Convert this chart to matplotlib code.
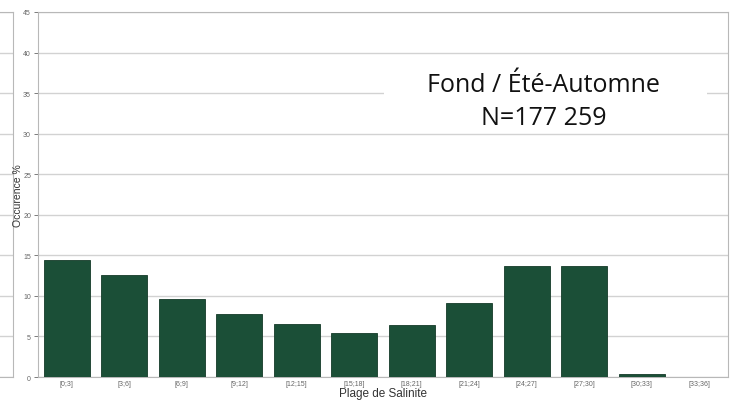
import matplotlib
matplotlib.use('Agg')
import matplotlib.pyplot as plt
from matplotlib.patches import Rectangle

# Salinity classes and share of observations (%)
ranges = ['[0;3]', '[3;6]', '[6;9]', '[9;12]', '[12;15]', '[15;18]',
          '[18;21]', '[21;24]', '[24;27]', '[27;30]', '[30;33]', '[33;36]']
occurrence = [14.4, 12.6, 9.6, 7.8, 6.5, 5.4, 6.4, 9.1, 13.7, 13.7, 0.35, 0.0]
yticks = [0, 5, 10, 15, 20, 25, 30, 35, 40, 45]

bar_color = '#1b4f37'
grid_color = '#d2d2d2'
spine_color = '#b8b8b8'

plt.rcParams['font.family'] = ['Liberation Sans', 'DejaVu Sans']

fig = plt.figure(figsize=(7.36, 4.02), dpi=100)

# partial neighbour panel cut off on the left edge
ax0 = fig.add_axes([-0.3, 0.0597, 0.317, 0.908])
ax0.set_ylim(0, 45)
ax0.set_yticks(yticks)
ax0.set_xticks([])
ax0.tick_params(left=False, labelleft=False)
ax0.grid(axis='y', color=grid_color, linewidth=1)
for s in ax0.spines.values():
    s.set_color(spine_color)

ax = fig.add_axes([0.0516, 0.0597, 0.9375, 0.908])
x = range(len(ranges))
ax.bar(x, occurrence, width=0.8, color=bar_color, edgecolor='#143a28',
       linewidth=0.6, zorder=3)
ax.set_xlim(-0.5, len(ranges) - 0.5)
ax.set_ylim(0, 45)
ax.set_yticks(yticks)
ax.set_xticks(list(x))
ax.set_xticklabels(ranges)
ax.grid(axis='y', color=grid_color, linewidth=1, zorder=0)
ax.tick_params(axis='both', labelsize=5, colors='#666666', length=3,
               width=0.6, pad=2)
ax.tick_params(axis='x', length=0)
for s in ax.spines.values():
    s.set_color(spine_color)

ax.set_ylabel('Occurence %', fontsize=7.5, color='#333333', labelpad=0)
ax.set_xlabel('Plage de Salinite', fontsize=8.5, color='#333333', labelpad=0)

# white label box with dataset name
ax.add_patch(Rectangle((0.502, 0.672), 0.468, 0.19, transform=ax.transAxes,
                       facecolor='white', edgecolor='none', zorder=4))
ax.text(0.733, 0.80, 'Fond / Été-Automne', transform=ax.transAxes,
        ha='center', va='center', fontsize=18, family=['Open Sans', 'DejaVu Sans'],
        color='#111111', zorder=5)
ax.text(0.733, 0.71, 'N=177 259', transform=ax.transAxes,
        ha='center', va='center', fontsize=18, family=['Open Sans', 'DejaVu Sans'],
        color='#111111', zorder=5)

fig.savefig('out.png', dpi=100)
